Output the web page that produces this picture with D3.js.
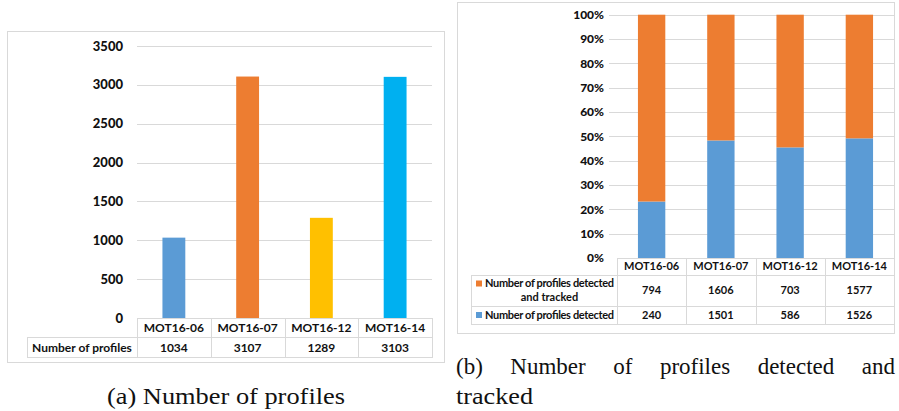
<!DOCTYPE html>
<html><head><meta charset="utf-8">
<script src="https://cdn.jsdelivr.net/npm/d3@7"></script>
<style>body{margin:0;background:#fff}svg{display:block}</style>
</head><body>
<svg id="c" width="899" height="411"></svg>
<script>
const categories = ["MOT16-06","MOT16-07","MOT16-12","MOT16-14"];
const profiles = [1034, 3107, 1289, 3103];
const profileColors = ["#5b9bd5","#ed7d31","#ffc000","#00b0f0"];
const yTicksA = [0,500,1000,1500,2000,2500,3000,3500];
const detectedTracked = [794, 1606, 703, 1577];
const detected = [240, 1501, 586, 1526];
const yTicksB = [0,0.1,0.2,0.3,0.4,0.5,0.6,0.7,0.8,0.9,1];
const seriesNames = ["Number of profiles detected and tracked","Number of profiles detected"];
const seriesColors = ["#ed7d31","#5b9bd5"];

const svg = d3.select("#c");
const grid = "#d9d9d9";
const txt = "#111";
const font = "Lato, 'Liberation Sans', sans-serif";

// ---------- Panel A ----------
const gA = svg.append("g");
gA.append("rect").attr("x",7.5).attr("y",31.5).attr("width",437).attr("height",331)
  .attr("fill","#fff").attr("stroke","#d9d9d9").attr("stroke-width",1);
const xA = d3.scaleBand().domain(categories).range([137,432]);
const yA = d3.scaleLinear().domain([0,3500]).range([318,46]);
gA.selectAll("line.grid").data(yTicksA.slice(1)).join("line")
  .attr("x1",137).attr("x2",432).attr("y1",d=>Math.round(yA(d))+0.5).attr("y2",d=>Math.round(yA(d))+0.5)
  .attr("stroke",grid).attr("stroke-width",1);
gA.selectAll("text.tick").data(yTicksA).join("text")
  .attr("x",123).attr("y",d=>yA(d)).attr("dy","0.35em").attr("text-anchor","end")
  .attr("font-family",font).attr("font-weight","900").attr("font-size",13).attr("fill",txt)
  .text(d=>d);
const bwA = xA.bandwidth()*0.31;
gA.selectAll("rect.bar").data(profiles).join("rect")
  .attr("x",(d,i)=>xA(categories[i])+xA.bandwidth()/2-bwA/2).attr("width",bwA)
  .attr("y",d=>yA(d)).attr("height",d=>yA(0)-yA(d))
  .attr("fill",(d,i)=>profileColors[i]);
// table A
const tA = gA.append("g").attr("stroke",grid).attr("stroke-width",1).attr("fill","none");
tA.append("line").attr("x1",137).attr("x2",432).attr("y1",318.5).attr("y2",318.5);
tA.append("line").attr("x1",27).attr("x2",432).attr("y1",337.5).attr("y2",337.5);
tA.append("line").attr("x1",27).attr("x2",432).attr("y1",357.5).attr("y2",357.5);
tA.append("line").attr("x1",27.5).attr("x2",27.5).attr("y1",337).attr("y2",358);
categories.forEach(c=>{
  tA.append("line").attr("x1",Math.round(xA(c))+0.5).attr("x2",Math.round(xA(c))+0.5).attr("y1",318).attr("y2",358);
});
tA.append("line").attr("x1",432.5).attr("x2",432.5).attr("y1",318).attr("y2",358);
gA.selectAll("text.cat").data(categories).join("text")
  .attr("x",d=>xA(d)+xA.bandwidth()/2).attr("y",328).attr("dy","0.35em").attr("text-anchor","middle")
  .attr("font-family",font).attr("font-weight","bold").attr("font-size",12).attr("fill",txt).text(d=>d);
gA.selectAll("text.val").data(profiles).join("text")
  .attr("x",(d,i)=>xA(categories[i])+xA.bandwidth()/2).attr("y",347.5).attr("dy","0.35em").attr("text-anchor","middle")
  .attr("font-family",font).attr("font-weight","bold").attr("font-size",12).attr("fill",txt).text(d=>d);
gA.append("text").attr("x",82).attr("y",347.5).attr("dy","0.35em").attr("text-anchor","middle")
  .attr("font-family",font).attr("font-weight","bold").attr("font-size",12).attr("fill",txt).text("Number of profiles");

// ---------- Panel B ----------
const gB = svg.append("g");
gB.append("rect").attr("x",457.5).attr("y",2.5).attr("width",437).attr("height",331)
  .attr("fill","#fff").attr("stroke","#d9d9d9").attr("stroke-width",1);
const xB = d3.scaleBand().domain(categories).range([617,894]);
const yB = d3.scaleLinear().domain([0,1]).range([258,14.7]);
gB.selectAll("line.grid").data(yTicksB.slice(1)).join("line")
  .attr("x1",609).attr("x2",894).attr("y1",d=>Math.round(yB(d))+0.5).attr("y2",d=>Math.round(yB(d))+0.5)
  .attr("stroke",grid).attr("stroke-width",1);
gB.selectAll("text.tick").data(yTicksB).join("text")
  .attr("x",604).attr("y",d=>yB(d)).attr("dy","0.35em").attr("text-anchor","end")
  .attr("font-family",font).attr("font-weight","900").attr("font-size",12).attr("fill",txt)
  .text(d=>Math.round(d*100)+"%");
const stackData = categories.map((c,i)=>({cat:c, det:detected[i], dt:detectedTracked[i]}));
const stack = d3.stack().keys(["det","dt"]).offset(d3.stackOffsetExpand)(stackData);
const bwB = xB.bandwidth()*0.395;
const stackColors = {det:seriesColors[1], dt:seriesColors[0]};
gB.selectAll("g.layer").data(stack).join("g").attr("fill",d=>stackColors[d.key])
  .selectAll("rect").data(d=>d).join("rect")
  .attr("x",d=>xB(d.data.cat)+xB.bandwidth()/2-bwB/2).attr("width",bwB)
  .attr("y",d=>yB(d[1])).attr("height",d=>yB(d[0])-yB(d[1]));
// table B
const tB = gB.append("g").attr("stroke",grid).attr("stroke-width",1).attr("fill","none");
tB.append("line").attr("x1",617).attr("x2",894).attr("y1",258.5).attr("y2",258.5);
[275.5,306.5,324.5].forEach(y=>tB.append("line").attr("x1",471).attr("x2",894).attr("y1",y).attr("y2",y));
tB.append("line").attr("x1",471.5).attr("x2",471.5).attr("y1",275).attr("y2",325);
categories.forEach(c=>{
  tB.append("line").attr("x1",Math.round(xB(c))+0.5).attr("x2",Math.round(xB(c))+0.5).attr("y1",258).attr("y2",325);
});
const fsB = 11;
gB.selectAll("text.cat").data(categories).join("text")
  .attr("x",d=>xB(d)+xB.bandwidth()/2).attr("y",266.5).attr("dy","0.35em").attr("text-anchor","middle")
  .attr("font-family",font).attr("font-weight","bold").attr("font-size",fsB).attr("fill",txt).text(d=>d);
gB.selectAll("text.v1").data(detectedTracked).join("text")
  .attr("x",(d,i)=>xB(categories[i])+xB.bandwidth()/2).attr("y",290.5).attr("dy","0.35em").attr("text-anchor","middle")
  .attr("font-family",font).attr("font-weight","bold").attr("font-size",fsB).attr("fill",txt).text(d=>d);
gB.selectAll("text.v2").data(detected).join("text")
  .attr("x",(d,i)=>xB(categories[i])+xB.bandwidth()/2).attr("y",315).attr("dy","0.35em").attr("text-anchor","middle")
  .attr("font-family",font).attr("font-weight","bold").attr("font-size",fsB).attr("fill",txt).text(d=>d);
// legend keys
gB.append("rect").attr("x",476).attr("y",280.5).attr("width",6).attr("height",6).attr("fill",seriesColors[0]);
gB.append("rect").attr("x",476).attr("y",312).attr("width",6).attr("height",6).attr("fill",seriesColors[1]);
gB.append("text").attr("x",485).attr("y",283.5).attr("dy","0.35em")
  .attr("font-family",font).attr("font-weight","bold").attr("font-size",fsB).attr("fill",txt)
  .attr("textLength",129).attr("lengthAdjust","spacing").text("Number of profiles detected");
gB.append("text").attr("x",549.5).attr("y",297).attr("dy","0.35em").attr("text-anchor","middle")
  .attr("font-family",font).attr("font-weight","bold").attr("font-size",fsB).attr("fill",txt).text("and tracked");
gB.append("text").attr("x",485).attr("y",315).attr("dy","0.35em")
  .attr("font-family",font).attr("font-weight","bold").attr("font-size",fsB).attr("fill",txt)
  .attr("textLength",129).attr("lengthAdjust","spacing").text("Number of profiles detected");

// ---------- Captions ----------
const serif = "'Liberation Serif', 'DejaVu Serif', serif";
svg.append("text").attr("x",107).attr("y",404).attr("font-family",serif).attr("font-size",23)
  .attr("fill","#111").attr("textLength",238).attr("lengthAdjust","spacingAndGlyphs").text("(a) Number of profiles");
// justified line for caption (b)
const capWords = ["(b)","Number","of","profiles","detected","and"];
const wg = svg.append("g");
const wt = wg.selectAll("text").data(capWords).join("text")
  .attr("y",374).attr("font-family",serif).attr("font-size",23).attr("fill","#111").text(d=>d);
const widths = wt.nodes().map(n=>n.getComputedTextLength());
const gap = (439 - d3.sum(widths))/(capWords.length-1);
let cx = 456;
wt.attr("x",(d,i)=>{const x=cx; cx += widths[i]+gap; return x;});
svg.append("text").attr("x",456).attr("y",404).attr("font-family",serif).attr("font-size",23)
  .attr("fill","#111").attr("textLength",77).attr("lengthAdjust","spacingAndGlyphs").text("tracked");
</script>
</body></html>
